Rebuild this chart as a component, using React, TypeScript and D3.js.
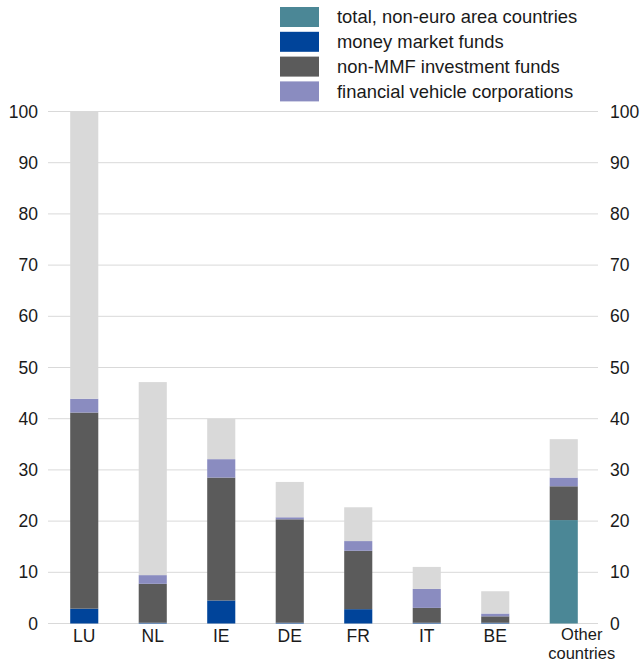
import React, { useRef, useEffect } from 'react';
import * as d3 from 'd3';

const categories = ['LU', 'NL', 'IE', 'DE', 'FR', 'IT', 'BE', 'Other countries'];
const nonEuro = [0, 0, 0, 0, 0, 0, 0, 20.2];
const mmf = [2.9, 0.15, 4.5, 0.15, 2.8, 0.15, 0.15, 0];
const nonMmf = [38.3, 7.6, 24.0, 20.2, 11.4, 2.9, 1.25, 6.6];
const fvc = [2.7, 1.7, 3.6, 0.4, 1.9, 3.7, 0.55, 1.7];
const other = [56.1, 37.7, 7.9, 6.9, 6.6, 4.3, 4.35, 7.5];
const yTicks = [0, 10, 20, 30, 40, 50, 60, 70, 80, 90, 100];

const seriesKeys = ['nonEuro', 'mmf', 'nonMmf', 'fvc', 'other'];
const colors = {
  nonEuro: '#4b8796',
  mmf: '#00449a',
  nonMmf: '#5b5b5b',
  fvc: '#8a8cc0',
  other: '#d9d9d9',
};
const legendItems = [
  { key: 'nonEuro', label: 'total, non-euro area countries' },
  { key: 'mmf', label: 'money market funds' },
  { key: 'nonMmf', label: 'non-MMF investment funds' },
  { key: 'fvc', label: 'financial vehicle corporations' },
];

const App = () => {
  const svgRef = useRef(null);

  useEffect(() => {
    const svg = d3.select(svgRef.current);
    svg.selectAll('*').remove();

    const font = 'Arial, "Liberation Sans", sans-serif';
    const left = 50, right = 598, top = 111.5, bottom = 623.5;

    const x = d3.scaleBand().domain(categories).range([left, right]).paddingInner(0.59).paddingOuter(0.295);
    const y = d3.scaleLinear().domain([0, 100]).range([bottom, top]);

    const table = categories.map((c, i) => ({
      cat: c, nonEuro: nonEuro[i], mmf: mmf[i], nonMmf: nonMmf[i], fvc: fvc[i], other: other[i],
    }));
    const stacked = d3.stack().keys(seriesKeys)(table);

    // gridlines
    svg.append('g').selectAll('line').data(yTicks).enter().append('line')
      .attr('x1', left - 2).attr('x2', right)
      .attr('y1', d => y(d)).attr('y2', d => y(d))
      .attr('stroke', '#d9d9d9').attr('stroke-width', 1);

    // bars
    svg.append('g').selectAll('g').data(stacked).enter().append('g')
      .attr('fill', d => colors[d.key])
      .selectAll('rect').data(d => d).enter().append('rect')
      .attr('x', d => x(d.data.cat))
      .attr('width', x.bandwidth())
      .attr('y', d => y(d[1]))
      .attr('height', d => Math.max(0, y(d[0]) - y(d[1])));

    // y tick labels, left and right
    const lt = svg.append('g');
    lt.selectAll('text').data(yTicks).enter().append('text')
      .attr('x', 38).attr('y', d => y(d)).attr('dy', '0.35em')
      .attr('text-anchor', 'end').attr('font-family', font).attr('font-size', 17.5)
      .attr('fill', '#1a1a1a').text(d => d);
    const rt = svg.append('g');
    rt.selectAll('text').data(yTicks).enter().append('text')
      .attr('x', 610).attr('y', d => y(d)).attr('dy', '0.35em')
      .attr('text-anchor', 'start').attr('font-family', font).attr('font-size', 17.5)
      .attr('fill', '#1a1a1a').text(d => d);

    // category labels
    const xl = svg.append('g');
    categories.forEach(c => {
      if (c === 'Other countries') {
        const cx = x(c) + x.bandwidth() / 2 + 18;
        xl.append('text').attr('x', cx).attr('y', 640).attr('text-anchor', 'middle')
          .attr('font-family', font).attr('font-size', 16.5).attr('fill', '#1a1a1a').text('Other');
        xl.append('text').attr('x', cx).attr('y', 658.5).attr('text-anchor', 'middle')
          .attr('font-family', font).attr('font-size', 16.5).attr('fill', '#1a1a1a').text('countries');
      } else {
        xl.append('text').attr('x', x(c) + x.bandwidth() / 2).attr('y', 642)
          .attr('text-anchor', 'middle').attr('font-family', font).attr('font-size', 17.5)
          .attr('fill', '#1a1a1a').text(c);
      }
    });

    // legend
    const lg = svg.append('g');
    legendItems.forEach((item, i) => {
      const yy = 7 + i * 24.8;
      lg.append('rect').attr('x', 280).attr('y', yy).attr('width', 39).attr('height', 20)
        .attr('fill', colors[item.key]);
      lg.append('text').attr('x', 337).attr('y', yy + 10).attr('dy', '0.35em')
        .attr('font-family', font).attr('font-size', 18.4).attr('fill', '#1a1a1a').text(item.label);
    });
  }, []);

  return (
    <svg ref={svgRef} width={641} height={661}
      style={{ position: 'absolute', left: 0, top: 0, background: '#fff' }} />
  );
};

export default App;
